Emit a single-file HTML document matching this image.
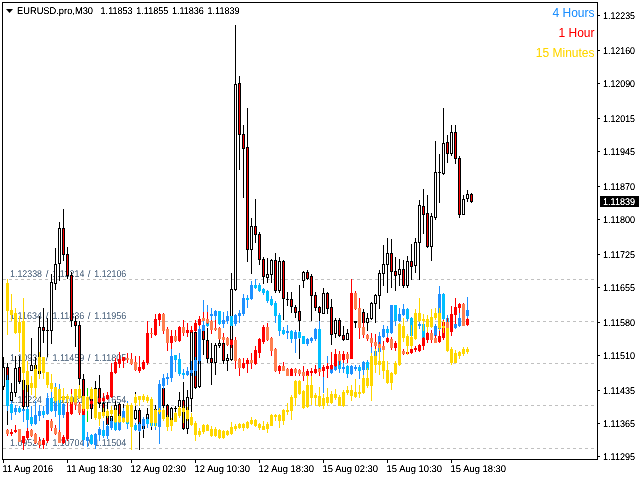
<!DOCTYPE html><html><head><meta charset="utf-8"><title>EURUSD.pro,M30</title>
<style>html,body{margin:0;padding:0;background:#fff;width:640px;height:480px;overflow:hidden}svg{display:block}text{font-family:"Liberation Sans",sans-serif;text-rendering:geometricPrecision}.ax{font-size:9.8px;fill:#000}.lb{font-size:9.8px;fill:#667a90}.lg{font-size:12px;text-rendering:auto}</style></head><body>
<svg width="640" height="480" viewBox="0 0 640 480">
<defs><filter id="cr" x="0" y="0" width="100%" height="100%" filterUnits="userSpaceOnUse" color-interpolation-filters="sRGB"><feComponentTransfer><feFuncA type="linear" slope="1.8" intercept="-0.25"/></feComponentTransfer></filter><filter id="c2" x="0" y="0" width="100%" height="100%" filterUnits="userSpaceOnUse" color-interpolation-filters="sRGB"><feComponentTransfer><feFuncA type="linear" slope="1.15" intercept="-0.05"/></feComponentTransfer></filter></defs>
<rect width="640" height="480" fill="#fff"/>
<g shape-rendering="crispEdges">
<path d="M3 279.5H597" stroke="#c0c0c0" stroke-width="1" stroke-dasharray="3 3" fill="none"/>
<path d="M3 321.5H597" stroke="#c0c0c0" stroke-width="1" stroke-dasharray="3 3" fill="none"/>
<path d="M3 363.5H597" stroke="#c0c0c0" stroke-width="1" stroke-dasharray="3 3" fill="none"/>
<path d="M3 405.5H597" stroke="#c0c0c0" stroke-width="1" stroke-dasharray="3 3" fill="none"/>
<path d="M3 448.5H597" stroke="#c0c0c0" stroke-width="1" stroke-dasharray="3 3" fill="none"/>
</g><g filter="url(#cr)">
<text class="lb" x="10" y="277" textLength="32" lengthAdjust="spacingAndGlyphs">1.12338</text>
<text class="lb" x="52.4" y="277" textLength="32" lengthAdjust="spacingAndGlyphs">1.12214</text>
<text class="lb" x="94.3" y="277" textLength="32" lengthAdjust="spacingAndGlyphs">1.12106</text>
<text class="lb" x="45.8" y="277">/</text>
<text class="lb" x="87.8" y="277">/</text>
<text class="lb" x="10" y="319" textLength="32" lengthAdjust="spacingAndGlyphs">1.11634</text>
<text class="lb" x="52.4" y="319" textLength="32" lengthAdjust="spacingAndGlyphs">1.11836</text>
<text class="lb" x="94.3" y="319" textLength="32" lengthAdjust="spacingAndGlyphs">1.11956</text>
<text class="lb" x="45.8" y="319">/</text>
<text class="lb" x="87.8" y="319">/</text>
<text class="lb" x="10" y="361" textLength="32" lengthAdjust="spacingAndGlyphs">1.10931</text>
<text class="lb" x="52.4" y="361" textLength="32" lengthAdjust="spacingAndGlyphs">1.11459</text>
<text class="lb" x="94.3" y="361" textLength="32" lengthAdjust="spacingAndGlyphs">1.11805</text>
<text class="lb" x="45.8" y="361">/</text>
<text class="lb" x="87.8" y="361">/</text>
<text class="lb" x="10" y="403" textLength="32" lengthAdjust="spacingAndGlyphs">1.10224</text>
<text class="lb" x="52.4" y="403" textLength="32" lengthAdjust="spacingAndGlyphs">1.11081</text>
<text class="lb" x="94.3" y="403" textLength="32" lengthAdjust="spacingAndGlyphs">1.11654</text>
<text class="lb" x="45.8" y="403">/</text>
<text class="lb" x="87.8" y="403">/</text>
<text class="lb" x="10" y="446" textLength="32" lengthAdjust="spacingAndGlyphs">1.09524</text>
<text class="lb" x="52.4" y="446" textLength="32" lengthAdjust="spacingAndGlyphs">1.10704</text>
<text class="lb" x="94.3" y="446" textLength="32" lengthAdjust="spacingAndGlyphs">1.11504</text>
<text class="lb" x="45.8" y="446">/</text>
<text class="lb" x="87.8" y="446">/</text>
</g><g shape-rendering="crispEdges">
<rect x="3" y="357" width="1" height="33" fill="#000"/>
<rect x="2" y="367" width="3" height="20" fill="#000"/>
<rect x="3" y="368" width="1" height="18" fill="#fff"/>
<rect x="7" y="363" width="1" height="62" fill="#000"/>
<rect x="6" y="367" width="3" height="34" fill="#000"/>
<rect x="7" y="368" width="1" height="32" fill="#ff0000"/>
<rect x="11" y="383" width="1" height="20" fill="#000"/>
<rect x="10" y="392" width="3" height="9" fill="#000"/>
<rect x="11" y="393" width="1" height="7" fill="#fff"/>
<rect x="15" y="356" width="1" height="41" fill="#000"/>
<rect x="14" y="368" width="3" height="25" fill="#000"/>
<rect x="15" y="369" width="1" height="23" fill="#fff"/>
<rect x="19" y="356" width="1" height="28" fill="#000"/>
<rect x="18" y="367" width="3" height="15" fill="#000"/>
<rect x="19" y="368" width="1" height="13" fill="#ff0000"/>
<rect x="23" y="378" width="1" height="32" fill="#000"/>
<rect x="22" y="380" width="3" height="27" fill="#000"/>
<rect x="23" y="381" width="1" height="25" fill="#ff0000"/>
<rect x="27" y="380" width="1" height="28" fill="#000"/>
<rect x="26" y="384" width="3" height="23" fill="#000"/>
<rect x="27" y="385" width="1" height="21" fill="#fff"/>
<rect x="31" y="338" width="1" height="33" fill="#000"/>
<rect x="30" y="365" width="3" height="6" fill="#000"/>
<rect x="31" y="366" width="1" height="4" fill="#fff"/>
<rect x="35" y="357" width="1" height="13" fill="#000"/>
<rect x="34" y="365" width="3" height="5" fill="#000"/>
<rect x="35" y="366" width="1" height="3" fill="#fff"/>
<rect x="39" y="316" width="1" height="58" fill="#000"/>
<rect x="38" y="327" width="3" height="47" fill="#000"/>
<rect x="39" y="328" width="1" height="45" fill="#fff"/>
<rect x="43" y="308" width="1" height="35" fill="#000"/>
<rect x="42" y="327" width="3" height="4" fill="#000"/>
<rect x="43" y="328" width="1" height="2" fill="#ff0000"/>
<rect x="47" y="318" width="1" height="39" fill="#000"/>
<rect x="46" y="330" width="3" height="1" fill="#000"/>
<rect x="51" y="274" width="1" height="70" fill="#000"/>
<rect x="50" y="282" width="3" height="49" fill="#000"/>
<rect x="51" y="283" width="1" height="47" fill="#fff"/>
<rect x="55" y="248" width="1" height="42" fill="#000"/>
<rect x="54" y="264" width="3" height="20" fill="#000"/>
<rect x="55" y="265" width="1" height="18" fill="#fff"/>
<rect x="59" y="222" width="1" height="59" fill="#000"/>
<rect x="58" y="228" width="3" height="36" fill="#000"/>
<rect x="59" y="229" width="1" height="34" fill="#fff"/>
<rect x="63" y="209" width="1" height="52" fill="#000"/>
<rect x="62" y="228" width="3" height="27" fill="#000"/>
<rect x="63" y="229" width="1" height="25" fill="#ff0000"/>
<rect x="67" y="247" width="1" height="32" fill="#000"/>
<rect x="66" y="254" width="3" height="22" fill="#000"/>
<rect x="67" y="255" width="1" height="20" fill="#ff0000"/>
<rect x="71" y="272" width="1" height="55" fill="#000"/>
<rect x="70" y="275" width="3" height="46" fill="#000"/>
<rect x="71" y="276" width="1" height="44" fill="#ff0000"/>
<rect x="75" y="316" width="1" height="31" fill="#000"/>
<rect x="74" y="321" width="3" height="5" fill="#000"/>
<rect x="75" y="322" width="1" height="3" fill="#ff0000"/>
<rect x="79" y="321" width="1" height="65" fill="#000"/>
<rect x="78" y="325" width="3" height="54" fill="#000"/>
<rect x="79" y="326" width="1" height="52" fill="#ff0000"/>
<rect x="83" y="374" width="1" height="41" fill="#000"/>
<rect x="82" y="379" width="3" height="34" fill="#000"/>
<rect x="83" y="380" width="1" height="32" fill="#ff0000"/>
<rect x="91" y="398" width="1" height="21" fill="#000"/>
<rect x="90" y="398" width="3" height="11" fill="#000"/>
<rect x="91" y="399" width="1" height="9" fill="#ff0000"/>
<rect x="95" y="381" width="1" height="10" fill="#000"/>
<rect x="94" y="388" width="3" height="2" fill="#000"/>
<rect x="99" y="375" width="1" height="33" fill="#000"/>
<rect x="98" y="388" width="3" height="16" fill="#000"/>
<rect x="99" y="389" width="1" height="14" fill="#ff0000"/>
<rect x="103" y="400" width="1" height="15" fill="#000"/>
<rect x="102" y="403" width="3" height="10" fill="#000"/>
<rect x="103" y="404" width="1" height="8" fill="#ff0000"/>
<rect x="107" y="402" width="1" height="25" fill="#000"/>
<rect x="106" y="415" width="3" height="10" fill="#000"/>
<rect x="107" y="416" width="1" height="8" fill="#ff0000"/>
<rect x="111" y="414" width="1" height="9" fill="#000"/>
<rect x="110" y="416" width="3" height="5" fill="#000"/>
<rect x="111" y="417" width="1" height="3" fill="#fff"/>
<rect x="115" y="401" width="1" height="11" fill="#000"/>
<rect x="114" y="405" width="3" height="5" fill="#000"/>
<rect x="115" y="406" width="1" height="3" fill="#fff"/>
<rect x="119" y="403" width="1" height="16" fill="#000"/>
<rect x="118" y="404" width="3" height="13" fill="#000"/>
<rect x="119" y="405" width="1" height="11" fill="#ff0000"/>
<rect x="123" y="404" width="1" height="16" fill="#000"/>
<rect x="122" y="417" width="3" height="2" fill="#000"/>
<rect x="135" y="392" width="1" height="28" fill="#000"/>
<rect x="134" y="410" width="3" height="9" fill="#000"/>
<rect x="135" y="411" width="1" height="7" fill="#fff"/>
<rect x="139" y="408" width="1" height="42" fill="#000"/>
<rect x="138" y="410" width="3" height="14" fill="#000"/>
<rect x="139" y="411" width="1" height="12" fill="#ff0000"/>
<rect x="143" y="418" width="1" height="20" fill="#000"/>
<rect x="142" y="425" width="3" height="4" fill="#000"/>
<rect x="143" y="426" width="1" height="2" fill="#ff0000"/>
<rect x="147" y="408" width="1" height="18" fill="#000"/>
<rect x="146" y="414" width="3" height="5" fill="#000"/>
<rect x="147" y="415" width="1" height="3" fill="#fff"/>
<rect x="151" y="427" width="1" height="3" fill="#000"/>
<rect x="155" y="405" width="1" height="5" fill="#000"/>
<rect x="154" y="409" width="3" height="1" fill="#000"/>
<rect x="163" y="386" width="1" height="25" fill="#000"/>
<rect x="162" y="388" width="3" height="18" fill="#000"/>
<rect x="163" y="389" width="1" height="16" fill="#ff0000"/>
<rect x="167" y="404" width="1" height="14" fill="#000"/>
<rect x="166" y="405" width="3" height="12" fill="#000"/>
<rect x="167" y="406" width="1" height="10" fill="#ff0000"/>
<rect x="171" y="407" width="1" height="15" fill="#000"/>
<rect x="170" y="408" width="3" height="13" fill="#000"/>
<rect x="171" y="409" width="1" height="11" fill="#fff"/>
<rect x="175" y="406" width="1" height="8" fill="#000"/>
<rect x="174" y="408" width="3" height="1" fill="#000"/>
<rect x="179" y="392" width="1" height="16" fill="#000"/>
<rect x="178" y="400" width="3" height="7" fill="#000"/>
<rect x="179" y="401" width="1" height="5" fill="#fff"/>
<rect x="183" y="382" width="1" height="48" fill="#000"/>
<rect x="182" y="400" width="3" height="29" fill="#000"/>
<rect x="183" y="401" width="1" height="27" fill="#ff0000"/>
<rect x="187" y="390" width="1" height="44" fill="#000"/>
<rect x="186" y="397" width="3" height="32" fill="#000"/>
<rect x="187" y="398" width="1" height="30" fill="#fff"/>
<rect x="191" y="330" width="1" height="82" fill="#000"/>
<rect x="190" y="332" width="3" height="67" fill="#000"/>
<rect x="191" y="333" width="1" height="65" fill="#fff"/>
<rect x="195" y="330" width="1" height="59" fill="#000"/>
<rect x="194" y="332" width="3" height="56" fill="#000"/>
<rect x="195" y="333" width="1" height="54" fill="#ff0000"/>
<rect x="199" y="328" width="1" height="60" fill="#000"/>
<rect x="198" y="330" width="3" height="57" fill="#000"/>
<rect x="199" y="331" width="1" height="55" fill="#fff"/>
<rect x="203" y="328" width="1" height="27" fill="#000"/>
<rect x="202" y="330" width="3" height="10" fill="#000"/>
<rect x="203" y="331" width="1" height="8" fill="#ff0000"/>
<rect x="207" y="328" width="1" height="35" fill="#000"/>
<rect x="206" y="340" width="3" height="19" fill="#000"/>
<rect x="207" y="341" width="1" height="17" fill="#ff0000"/>
<rect x="211" y="343" width="1" height="42" fill="#000"/>
<rect x="210" y="358" width="3" height="5" fill="#000"/>
<rect x="211" y="359" width="1" height="3" fill="#ff0000"/>
<rect x="215" y="343" width="1" height="32" fill="#000"/>
<rect x="214" y="345" width="3" height="18" fill="#000"/>
<rect x="215" y="346" width="1" height="16" fill="#fff"/>
<rect x="219" y="340" width="1" height="8" fill="#000"/>
<rect x="218" y="343" width="3" height="3" fill="#000"/>
<rect x="219" y="344" width="1" height="1" fill="#fff"/>
<rect x="223" y="342" width="1" height="22" fill="#000"/>
<rect x="222" y="343" width="3" height="18" fill="#000"/>
<rect x="223" y="344" width="1" height="16" fill="#ff0000"/>
<rect x="227" y="354" width="1" height="17" fill="#000"/>
<rect x="226" y="358" width="3" height="3" fill="#000"/>
<rect x="227" y="359" width="1" height="1" fill="#fff"/>
<rect x="231" y="273" width="1" height="88" fill="#000"/>
<rect x="230" y="289" width="3" height="71" fill="#000"/>
<rect x="231" y="290" width="1" height="69" fill="#fff"/>
<rect x="235" y="25" width="1" height="266" fill="#000"/>
<rect x="234" y="84" width="3" height="206" fill="#000"/>
<rect x="235" y="85" width="1" height="204" fill="#fff"/>
<rect x="239" y="76" width="1" height="94" fill="#000"/>
<rect x="238" y="83" width="3" height="52" fill="#000"/>
<rect x="239" y="84" width="1" height="50" fill="#ff0000"/>
<rect x="243" y="125" width="1" height="73" fill="#000"/>
<rect x="242" y="134" width="3" height="15" fill="#000"/>
<rect x="243" y="135" width="1" height="13" fill="#ff0000"/>
<rect x="247" y="108" width="1" height="154" fill="#000"/>
<rect x="246" y="147" width="3" height="103" fill="#000"/>
<rect x="247" y="148" width="1" height="101" fill="#ff0000"/>
<rect x="251" y="218" width="1" height="56" fill="#000"/>
<rect x="250" y="226" width="3" height="24" fill="#000"/>
<rect x="251" y="227" width="1" height="22" fill="#fff"/>
<rect x="255" y="199" width="1" height="44" fill="#000"/>
<rect x="254" y="226" width="3" height="9" fill="#000"/>
<rect x="255" y="227" width="1" height="7" fill="#ff0000"/>
<rect x="259" y="232" width="1" height="33" fill="#000"/>
<rect x="258" y="234" width="3" height="26" fill="#000"/>
<rect x="259" y="235" width="1" height="24" fill="#ff0000"/>
<rect x="263" y="257" width="1" height="27" fill="#000"/>
<rect x="262" y="259" width="3" height="18" fill="#000"/>
<rect x="263" y="260" width="1" height="16" fill="#ff0000"/>
<rect x="267" y="258" width="1" height="25" fill="#000"/>
<rect x="266" y="274" width="3" height="4" fill="#000"/>
<rect x="267" y="275" width="1" height="2" fill="#fff"/>
<rect x="271" y="259" width="1" height="24" fill="#000"/>
<rect x="270" y="260" width="3" height="15" fill="#000"/>
<rect x="271" y="261" width="1" height="13" fill="#fff"/>
<rect x="275" y="253" width="1" height="40" fill="#000"/>
<rect x="274" y="260" width="3" height="31" fill="#000"/>
<rect x="275" y="261" width="1" height="29" fill="#ff0000"/>
<rect x="279" y="257" width="1" height="36" fill="#000"/>
<rect x="278" y="261" width="3" height="30" fill="#000"/>
<rect x="279" y="262" width="1" height="28" fill="#fff"/>
<rect x="283" y="260" width="1" height="60" fill="#000"/>
<rect x="282" y="261" width="3" height="38" fill="#000"/>
<rect x="283" y="262" width="1" height="36" fill="#ff0000"/>
<rect x="287" y="292" width="1" height="14" fill="#000"/>
<rect x="286" y="299" width="3" height="1" fill="#000"/>
<rect x="291" y="292" width="1" height="21" fill="#000"/>
<rect x="290" y="299" width="3" height="8" fill="#000"/>
<rect x="291" y="300" width="1" height="6" fill="#ff0000"/>
<rect x="295" y="305" width="1" height="13" fill="#000"/>
<rect x="294" y="307" width="3" height="6" fill="#000"/>
<rect x="295" y="308" width="1" height="4" fill="#ff0000"/>
<rect x="299" y="285" width="1" height="74" fill="#000"/>
<rect x="298" y="311" width="3" height="10" fill="#000"/>
<rect x="299" y="312" width="1" height="8" fill="#ff0000"/>
<rect x="303" y="271" width="1" height="17" fill="#000"/>
<rect x="302" y="272" width="3" height="9" fill="#000"/>
<rect x="303" y="273" width="1" height="7" fill="#fff"/>
<rect x="307" y="270" width="1" height="10" fill="#000"/>
<rect x="306" y="272" width="3" height="7" fill="#000"/>
<rect x="307" y="273" width="1" height="5" fill="#ff0000"/>
<rect x="311" y="274" width="1" height="47" fill="#000"/>
<rect x="310" y="276" width="3" height="20" fill="#000"/>
<rect x="311" y="277" width="1" height="18" fill="#ff0000"/>
<rect x="315" y="292" width="1" height="19" fill="#000"/>
<rect x="314" y="295" width="3" height="13" fill="#000"/>
<rect x="315" y="296" width="1" height="11" fill="#ff0000"/>
<rect x="319" y="306" width="1" height="16" fill="#000"/>
<rect x="318" y="307" width="3" height="6" fill="#000"/>
<rect x="319" y="308" width="1" height="4" fill="#ff0000"/>
<rect x="323" y="288" width="1" height="26" fill="#000"/>
<rect x="322" y="293" width="3" height="21" fill="#000"/>
<rect x="323" y="294" width="1" height="19" fill="#fff"/>
<rect x="327" y="292" width="1" height="22" fill="#000"/>
<rect x="326" y="293" width="3" height="16" fill="#000"/>
<rect x="327" y="294" width="1" height="14" fill="#ff0000"/>
<rect x="331" y="299" width="1" height="46" fill="#000"/>
<rect x="330" y="307" width="3" height="28" fill="#000"/>
<rect x="331" y="308" width="1" height="26" fill="#ff0000"/>
<rect x="335" y="318" width="1" height="20" fill="#000"/>
<rect x="334" y="320" width="3" height="14" fill="#000"/>
<rect x="335" y="321" width="1" height="12" fill="#fff"/>
<rect x="339" y="318" width="1" height="19" fill="#000"/>
<rect x="338" y="320" width="3" height="16" fill="#000"/>
<rect x="339" y="321" width="1" height="14" fill="#ff0000"/>
<rect x="343" y="326" width="1" height="15" fill="#000"/>
<rect x="342" y="335" width="3" height="5" fill="#000"/>
<rect x="343" y="336" width="1" height="3" fill="#ff0000"/>
<rect x="347" y="329" width="1" height="11" fill="#000"/>
<rect x="346" y="333" width="3" height="7" fill="#000"/>
<rect x="347" y="334" width="1" height="5" fill="#fff"/>
<rect x="355" y="321" width="1" height="7" fill="#000"/>
<rect x="354" y="321" width="3" height="2" fill="#000"/>
<rect x="363" y="309" width="1" height="15" fill="#000"/>
<rect x="362" y="312" width="3" height="11" fill="#000"/>
<rect x="363" y="313" width="1" height="9" fill="#ff0000"/>
<rect x="367" y="313" width="1" height="18" fill="#000"/>
<rect x="366" y="318" width="3" height="5" fill="#000"/>
<rect x="367" y="319" width="1" height="3" fill="#fff"/>
<rect x="371" y="302" width="1" height="18" fill="#000"/>
<rect x="370" y="303" width="3" height="16" fill="#000"/>
<rect x="371" y="304" width="1" height="14" fill="#fff"/>
<rect x="375" y="294" width="1" height="29" fill="#000"/>
<rect x="374" y="295" width="3" height="9" fill="#000"/>
<rect x="375" y="296" width="1" height="7" fill="#fff"/>
<rect x="379" y="270" width="1" height="39" fill="#000"/>
<rect x="378" y="273" width="3" height="23" fill="#000"/>
<rect x="379" y="274" width="1" height="21" fill="#fff"/>
<rect x="383" y="245" width="1" height="41" fill="#000"/>
<rect x="382" y="264" width="3" height="10" fill="#000"/>
<rect x="383" y="265" width="1" height="8" fill="#fff"/>
<rect x="387" y="238" width="1" height="55" fill="#000"/>
<rect x="386" y="253" width="3" height="12" fill="#000"/>
<rect x="387" y="254" width="1" height="10" fill="#fff"/>
<rect x="391" y="239" width="1" height="49" fill="#000"/>
<rect x="390" y="253" width="3" height="19" fill="#000"/>
<rect x="391" y="254" width="1" height="17" fill="#ff0000"/>
<rect x="395" y="257" width="1" height="34" fill="#000"/>
<rect x="394" y="271" width="3" height="5" fill="#000"/>
<rect x="395" y="272" width="1" height="3" fill="#ff0000"/>
<rect x="399" y="259" width="1" height="27" fill="#000"/>
<rect x="398" y="269" width="3" height="6" fill="#000"/>
<rect x="399" y="270" width="1" height="4" fill="#fff"/>
<rect x="403" y="260" width="1" height="28" fill="#000"/>
<rect x="402" y="269" width="3" height="17" fill="#000"/>
<rect x="403" y="270" width="1" height="15" fill="#ff0000"/>
<rect x="407" y="256" width="1" height="32" fill="#000"/>
<rect x="406" y="261" width="3" height="25" fill="#000"/>
<rect x="407" y="262" width="1" height="23" fill="#fff"/>
<rect x="411" y="244" width="1" height="36" fill="#000"/>
<rect x="410" y="261" width="3" height="6" fill="#000"/>
<rect x="411" y="262" width="1" height="4" fill="#ff0000"/>
<rect x="415" y="238" width="1" height="35" fill="#000"/>
<rect x="414" y="242" width="3" height="24" fill="#000"/>
<rect x="415" y="243" width="1" height="22" fill="#fff"/>
<rect x="419" y="200" width="1" height="80" fill="#000"/>
<rect x="418" y="205" width="3" height="38" fill="#000"/>
<rect x="419" y="206" width="1" height="36" fill="#fff"/>
<rect x="423" y="189" width="1" height="45" fill="#000"/>
<rect x="422" y="206" width="3" height="9" fill="#000"/>
<rect x="423" y="207" width="1" height="7" fill="#ff0000"/>
<rect x="427" y="195" width="1" height="53" fill="#000"/>
<rect x="426" y="213" width="3" height="34" fill="#000"/>
<rect x="427" y="214" width="1" height="32" fill="#ff0000"/>
<rect x="431" y="213" width="1" height="48" fill="#000"/>
<rect x="430" y="216" width="3" height="31" fill="#000"/>
<rect x="431" y="217" width="1" height="29" fill="#fff"/>
<rect x="435" y="141" width="1" height="79" fill="#000"/>
<rect x="434" y="172" width="3" height="46" fill="#000"/>
<rect x="435" y="173" width="1" height="44" fill="#fff"/>
<rect x="439" y="154" width="1" height="49" fill="#000"/>
<rect x="438" y="172" width="3" height="1" fill="#000"/>
<rect x="443" y="108" width="1" height="67" fill="#000"/>
<rect x="442" y="143" width="3" height="31" fill="#000"/>
<rect x="443" y="144" width="1" height="29" fill="#fff"/>
<rect x="447" y="135" width="1" height="28" fill="#000"/>
<rect x="446" y="142" width="3" height="12" fill="#000"/>
<rect x="447" y="143" width="1" height="10" fill="#ff0000"/>
<rect x="451" y="125" width="1" height="31" fill="#000"/>
<rect x="450" y="132" width="3" height="22" fill="#000"/>
<rect x="451" y="133" width="1" height="20" fill="#fff"/>
<rect x="455" y="125" width="1" height="39" fill="#000"/>
<rect x="454" y="132" width="3" height="27" fill="#000"/>
<rect x="455" y="133" width="1" height="25" fill="#ff0000"/>
<rect x="459" y="156" width="1" height="62" fill="#000"/>
<rect x="458" y="158" width="3" height="57" fill="#000"/>
<rect x="459" y="159" width="1" height="55" fill="#ff0000"/>
<rect x="463" y="195" width="1" height="20" fill="#000"/>
<rect x="462" y="199" width="3" height="16" fill="#000"/>
<rect x="463" y="200" width="1" height="14" fill="#fff"/>
<rect x="467" y="190" width="1" height="12" fill="#000"/>
<rect x="466" y="194" width="3" height="5" fill="#000"/>
<rect x="467" y="195" width="1" height="3" fill="#fff"/>
<rect x="471" y="193" width="1" height="10" fill="#000"/>
<rect x="470" y="194" width="3" height="8" fill="#000"/>
<rect x="471" y="195" width="1" height="6" fill="#ff0000"/>
<rect x="87" y="388" width="1" height="34" fill="#00e000"/>
<rect x="7" y="375" width="1" height="36" fill="#1e90ff"/>
<rect x="6" y="380" width="3" height="26" fill="#00bfff"/>
<rect x="11" y="401" width="1" height="19" fill="#1e90ff"/>
<rect x="10" y="404" width="3" height="9" fill="#00bfff"/>
<rect x="15" y="405" width="1" height="10" fill="#1e90ff"/>
<rect x="14" y="408" width="3" height="4" fill="#1e90ff"/>
<rect x="19" y="406" width="1" height="7" fill="#1e90ff"/>
<rect x="18" y="408" width="3" height="4" fill="#00bfff"/>
<rect x="23" y="409" width="1" height="13" fill="#1e90ff"/>
<rect x="22" y="409" width="3" height="2" fill="#1e90ff"/>
<rect x="27" y="406" width="1" height="23" fill="#1e90ff"/>
<rect x="26" y="409" width="3" height="11" fill="#00bfff"/>
<rect x="31" y="406" width="1" height="20" fill="#1e90ff"/>
<rect x="30" y="417" width="3" height="7" fill="#00bfff"/>
<rect x="35" y="401" width="1" height="24" fill="#1e90ff"/>
<rect x="34" y="415" width="3" height="9" fill="#1e90ff"/>
<rect x="39" y="405" width="1" height="16" fill="#1e90ff"/>
<rect x="38" y="411" width="3" height="5" fill="#1e90ff"/>
<rect x="43" y="406" width="1" height="12" fill="#1e90ff"/>
<rect x="42" y="411" width="3" height="4" fill="#00bfff"/>
<rect x="47" y="393" width="1" height="22" fill="#1e90ff"/>
<rect x="46" y="398" width="3" height="16" fill="#1e90ff"/>
<rect x="51" y="392" width="1" height="20" fill="#1e90ff"/>
<rect x="50" y="398" width="3" height="13" fill="#00bfff"/>
<rect x="55" y="383" width="1" height="34" fill="#1e90ff"/>
<rect x="54" y="400" width="3" height="11" fill="#1e90ff"/>
<rect x="59" y="384" width="1" height="47" fill="#1e90ff"/>
<rect x="58" y="392" width="3" height="23" fill="#00bfff"/>
<rect x="63" y="402" width="1" height="16" fill="#1e90ff"/>
<rect x="62" y="404" width="3" height="11" fill="#1e90ff"/>
<rect x="83" y="412" width="1" height="34" fill="#1e90ff"/>
<rect x="82" y="414" width="3" height="26" fill="#00bfff"/>
<rect x="87" y="432" width="1" height="15" fill="#1e90ff"/>
<rect x="86" y="437" width="3" height="4" fill="#1e90ff"/>
<rect x="91" y="434" width="1" height="11" fill="#1e90ff"/>
<rect x="90" y="435" width="3" height="9" fill="#00bfff"/>
<rect x="95" y="433" width="1" height="16" fill="#1e90ff"/>
<rect x="94" y="434" width="3" height="11" fill="#1e90ff"/>
<rect x="99" y="427" width="1" height="14" fill="#1e90ff"/>
<rect x="98" y="429" width="3" height="6" fill="#1e90ff"/>
<rect x="103" y="421" width="1" height="17" fill="#1e90ff"/>
<rect x="102" y="430" width="3" height="6" fill="#00bfff"/>
<rect x="107" y="424" width="1" height="15" fill="#1e90ff"/>
<rect x="106" y="426" width="3" height="10" fill="#1e90ff"/>
<rect x="111" y="418" width="1" height="12" fill="#1e90ff"/>
<rect x="110" y="421" width="3" height="7" fill="#1e90ff"/>
<rect x="115" y="420" width="1" height="11" fill="#1e90ff"/>
<rect x="114" y="422" width="3" height="8" fill="#00bfff"/>
<rect x="119" y="418" width="1" height="13" fill="#1e90ff"/>
<rect x="118" y="421" width="3" height="9" fill="#1e90ff"/>
<rect x="123" y="408" width="1" height="12" fill="#1e90ff"/>
<rect x="122" y="411" width="3" height="7" fill="#1e90ff"/>
<rect x="127" y="401" width="1" height="28" fill="#1e90ff"/>
<rect x="126" y="421" width="3" height="3" fill="#00bfff"/>
<rect x="135" y="423" width="1" height="8" fill="#1e90ff"/>
<rect x="134" y="425" width="3" height="5" fill="#00bfff"/>
<rect x="139" y="422" width="1" height="10" fill="#1e90ff"/>
<rect x="138" y="424" width="3" height="7" fill="#1e90ff"/>
<rect x="143" y="417" width="1" height="13" fill="#1e90ff"/>
<rect x="142" y="419" width="3" height="7" fill="#1e90ff"/>
<rect x="147" y="417" width="1" height="11" fill="#1e90ff"/>
<rect x="146" y="419" width="3" height="5" fill="#00bfff"/>
<rect x="155" y="421" width="1" height="9" fill="#1e90ff"/>
<rect x="154" y="422" width="3" height="4" fill="#00bfff"/>
<rect x="159" y="380" width="1" height="64" fill="#1e90ff"/>
<rect x="158" y="384" width="3" height="43" fill="#1e90ff"/>
<rect x="163" y="374" width="1" height="15" fill="#1e90ff"/>
<rect x="162" y="378" width="3" height="8" fill="#1e90ff"/>
<rect x="167" y="373" width="1" height="12" fill="#1e90ff"/>
<rect x="166" y="377" width="3" height="2" fill="#1e90ff"/>
<rect x="171" y="348" width="1" height="34" fill="#1e90ff"/>
<rect x="170" y="356" width="3" height="22" fill="#1e90ff"/>
<rect x="175" y="355" width="1" height="17" fill="#1e90ff"/>
<rect x="174" y="355" width="3" height="5" fill="#00bfff"/>
<rect x="179" y="353" width="1" height="23" fill="#1e90ff"/>
<rect x="178" y="359" width="3" height="15" fill="#00bfff"/>
<rect x="183" y="369" width="1" height="10" fill="#1e90ff"/>
<rect x="182" y="373" width="3" height="2" fill="#00bfff"/>
<rect x="187" y="367" width="1" height="9" fill="#1e90ff"/>
<rect x="186" y="371" width="3" height="4" fill="#1e90ff"/>
<rect x="191" y="361" width="1" height="15" fill="#1e90ff"/>
<rect x="190" y="370" width="3" height="3" fill="#1e90ff"/>
<rect x="195" y="357" width="1" height="19" fill="#1e90ff"/>
<rect x="194" y="360" width="3" height="11" fill="#1e90ff"/>
<rect x="199" y="326" width="1" height="38" fill="#1e90ff"/>
<rect x="198" y="329" width="3" height="32" fill="#1e90ff"/>
<rect x="203" y="300" width="1" height="31" fill="#1e90ff"/>
<rect x="202" y="325" width="3" height="6" fill="#1e90ff"/>
<rect x="207" y="305" width="1" height="22" fill="#1e90ff"/>
<rect x="206" y="322" width="3" height="4" fill="#00bfff"/>
<rect x="211" y="308" width="1" height="13" fill="#1e90ff"/>
<rect x="210" y="314" width="3" height="2" fill="#1e90ff"/>
<rect x="215" y="310" width="1" height="11" fill="#1e90ff"/>
<rect x="214" y="311" width="3" height="5" fill="#1e90ff"/>
<rect x="219" y="311" width="1" height="14" fill="#1e90ff"/>
<rect x="218" y="311" width="3" height="13" fill="#00bfff"/>
<rect x="223" y="312" width="1" height="16" fill="#1e90ff"/>
<rect x="222" y="320" width="3" height="4" fill="#1e90ff"/>
<rect x="227" y="311" width="1" height="13" fill="#1e90ff"/>
<rect x="226" y="316" width="3" height="5" fill="#1e90ff"/>
<rect x="231" y="316" width="1" height="10" fill="#1e90ff"/>
<rect x="230" y="316" width="3" height="10" fill="#00bfff"/>
<rect x="235" y="314" width="1" height="12" fill="#1e90ff"/>
<rect x="234" y="315" width="3" height="9" fill="#1e90ff"/>
<rect x="239" y="310" width="1" height="13" fill="#1e90ff"/>
<rect x="238" y="313" width="3" height="3" fill="#1e90ff"/>
<rect x="243" y="294" width="1" height="22" fill="#1e90ff"/>
<rect x="242" y="298" width="3" height="16" fill="#1e90ff"/>
<rect x="247" y="295" width="1" height="13" fill="#1e90ff"/>
<rect x="246" y="298" width="3" height="2" fill="#00bfff"/>
<rect x="251" y="281" width="1" height="19" fill="#1e90ff"/>
<rect x="250" y="285" width="3" height="14" fill="#1e90ff"/>
<rect x="255" y="279" width="1" height="10" fill="#1e90ff"/>
<rect x="254" y="285" width="3" height="3" fill="#00bfff"/>
<rect x="259" y="283" width="1" height="9" fill="#1e90ff"/>
<rect x="258" y="285" width="3" height="6" fill="#00bfff"/>
<rect x="263" y="288" width="1" height="7" fill="#1e90ff"/>
<rect x="262" y="289" width="3" height="4" fill="#00bfff"/>
<rect x="267" y="290" width="1" height="13" fill="#1e90ff"/>
<rect x="266" y="291" width="3" height="10" fill="#00bfff"/>
<rect x="271" y="296" width="1" height="10" fill="#1e90ff"/>
<rect x="270" y="299" width="3" height="6" fill="#00bfff"/>
<rect x="275" y="301" width="1" height="22" fill="#1e90ff"/>
<rect x="274" y="303" width="3" height="13" fill="#00bfff"/>
<rect x="279" y="313" width="1" height="23" fill="#1e90ff"/>
<rect x="278" y="315" width="3" height="16" fill="#00bfff"/>
<rect x="283" y="327" width="1" height="8" fill="#1e90ff"/>
<rect x="282" y="330" width="3" height="4" fill="#00bfff"/>
<rect x="287" y="325" width="1" height="14" fill="#1e90ff"/>
<rect x="286" y="331" width="3" height="2" fill="#1e90ff"/>
<rect x="291" y="330" width="1" height="13" fill="#1e90ff"/>
<rect x="290" y="331" width="3" height="8" fill="#00bfff"/>
<rect x="295" y="330" width="1" height="23" fill="#1e90ff"/>
<rect x="294" y="332" width="3" height="7" fill="#1e90ff"/>
<rect x="299" y="331" width="1" height="8" fill="#1e90ff"/>
<rect x="298" y="332" width="3" height="6" fill="#00bfff"/>
<rect x="303" y="336" width="1" height="8" fill="#1e90ff"/>
<rect x="302" y="336" width="3" height="8" fill="#00bfff"/>
<rect x="307" y="338" width="1" height="8" fill="#1e90ff"/>
<rect x="306" y="339" width="3" height="5" fill="#1e90ff"/>
<rect x="311" y="337" width="1" height="6" fill="#1e90ff"/>
<rect x="310" y="338" width="3" height="3" fill="#1e90ff"/>
<rect x="315" y="328" width="1" height="13" fill="#1e90ff"/>
<rect x="314" y="329" width="3" height="10" fill="#1e90ff"/>
<rect x="319" y="321" width="1" height="49" fill="#1e90ff"/>
<rect x="318" y="329" width="3" height="40" fill="#00bfff"/>
<rect x="323" y="365" width="1" height="28" fill="#1e90ff"/>
<rect x="322" y="367" width="3" height="4" fill="#1e90ff"/>
<rect x="327" y="356" width="1" height="17" fill="#1e90ff"/>
<rect x="326" y="366" width="3" height="3" fill="#1e90ff"/>
<rect x="331" y="366" width="1" height="8" fill="#1e90ff"/>
<rect x="330" y="368" width="3" height="5" fill="#1e90ff"/>
<rect x="335" y="364" width="1" height="7" fill="#1e90ff"/>
<rect x="334" y="365" width="3" height="5" fill="#1e90ff"/>
<rect x="339" y="359" width="1" height="14" fill="#1e90ff"/>
<rect x="338" y="360" width="3" height="9" fill="#00bfff"/>
<rect x="343" y="362" width="1" height="11" fill="#1e90ff"/>
<rect x="342" y="367" width="3" height="2" fill="#1e90ff"/>
<rect x="347" y="365" width="1" height="13" fill="#1e90ff"/>
<rect x="346" y="366" width="3" height="8" fill="#00bfff"/>
<rect x="351" y="365" width="1" height="10" fill="#1e90ff"/>
<rect x="350" y="366" width="3" height="8" fill="#1e90ff"/>
<rect x="355" y="365" width="1" height="6" fill="#1e90ff"/>
<rect x="354" y="367" width="3" height="2" fill="#1e90ff"/>
<rect x="359" y="365" width="1" height="14" fill="#1e90ff"/>
<rect x="358" y="367" width="3" height="4" fill="#00bfff"/>
<rect x="363" y="361" width="1" height="15" fill="#1e90ff"/>
<rect x="362" y="362" width="3" height="8" fill="#1e90ff"/>
<rect x="367" y="360" width="1" height="11" fill="#1e90ff"/>
<rect x="366" y="362" width="3" height="8" fill="#00bfff"/>
<rect x="371" y="345" width="1" height="9" fill="#1e90ff"/>
<rect x="375" y="347" width="1" height="10" fill="#1e90ff"/>
<rect x="374" y="351" width="3" height="5" fill="#1e90ff"/>
<rect x="379" y="332" width="1" height="21" fill="#1e90ff"/>
<rect x="378" y="336" width="3" height="16" fill="#1e90ff"/>
<rect x="383" y="325" width="1" height="13" fill="#1e90ff"/>
<rect x="382" y="329" width="3" height="8" fill="#1e90ff"/>
<rect x="387" y="326" width="1" height="12" fill="#1e90ff"/>
<rect x="386" y="329" width="3" height="4" fill="#00bfff"/>
<rect x="391" y="305" width="1" height="29" fill="#1e90ff"/>
<rect x="390" y="305" width="3" height="28" fill="#1e90ff"/>
<rect x="395" y="305" width="1" height="21" fill="#1e90ff"/>
<rect x="394" y="305" width="3" height="16" fill="#00bfff"/>
<rect x="399" y="308" width="1" height="14" fill="#1e90ff"/>
<rect x="398" y="314" width="3" height="7" fill="#1e90ff"/>
<rect x="403" y="304" width="1" height="12" fill="#1e90ff"/>
<rect x="402" y="309" width="3" height="6" fill="#1e90ff"/>
<rect x="407" y="308" width="1" height="13" fill="#1e90ff"/>
<rect x="406" y="309" width="3" height="10" fill="#00bfff"/>
<rect x="411" y="317" width="1" height="20" fill="#1e90ff"/>
<rect x="410" y="318" width="3" height="18" fill="#00bfff"/>
<rect x="419" y="320" width="1" height="9" fill="#1e90ff"/>
<rect x="418" y="324" width="3" height="2" fill="#1e90ff"/>
<rect x="423" y="322" width="1" height="17" fill="#1e90ff"/>
<rect x="422" y="324" width="3" height="14" fill="#00bfff"/>
<rect x="435" y="324" width="1" height="13" fill="#1e90ff"/>
<rect x="434" y="326" width="3" height="10" fill="#1e90ff"/>
<rect x="439" y="286" width="1" height="45" fill="#1e90ff"/>
<rect x="438" y="294" width="3" height="35" fill="#1e90ff"/>
<rect x="443" y="293" width="1" height="28" fill="#1e90ff"/>
<rect x="442" y="294" width="3" height="25" fill="#00bfff"/>
<rect x="447" y="315" width="1" height="8" fill="#1e90ff"/>
<rect x="446" y="318" width="3" height="4" fill="#00bfff"/>
<rect x="455" y="323" width="1" height="6" fill="#1e90ff"/>
<rect x="454" y="324" width="3" height="4" fill="#1e90ff"/>
<rect x="459" y="313" width="1" height="14" fill="#1e90ff"/>
<rect x="458" y="318" width="3" height="8" fill="#1e90ff"/>
<rect x="467" y="297" width="1" height="21" fill="#1e90ff"/>
<rect x="466" y="310" width="3" height="6" fill="#1e90ff"/>
<rect x="151" y="421" width="1" height="6" fill="#1e90ff"/>
<rect x="150" y="422" width="3" height="4" fill="#00bfff"/>
<rect x="7" y="429" width="1" height="7" fill="#ff0000"/>
<rect x="6" y="430" width="3" height="4" fill="#ff7f50"/>
<rect x="11" y="429" width="1" height="7" fill="#ff0000"/>
<rect x="10" y="432" width="3" height="2" fill="#ff0000"/>
<rect x="15" y="425" width="1" height="8" fill="#ff0000"/>
<rect x="14" y="430" width="3" height="2" fill="#ff0000"/>
<rect x="19" y="429" width="1" height="13" fill="#ff0000"/>
<rect x="18" y="429" width="3" height="13" fill="#ff7f50"/>
<rect x="23" y="436" width="1" height="14" fill="#ff0000"/>
<rect x="22" y="436" width="3" height="7" fill="#ff0000"/>
<rect x="27" y="428" width="1" height="12" fill="#ff0000"/>
<rect x="26" y="431" width="3" height="7" fill="#ff0000"/>
<rect x="31" y="429" width="1" height="8" fill="#ff0000"/>
<rect x="30" y="430" width="3" height="6" fill="#ff7f50"/>
<rect x="35" y="433" width="1" height="11" fill="#ff0000"/>
<rect x="34" y="434" width="3" height="9" fill="#ff7f50"/>
<rect x="39" y="437" width="1" height="11" fill="#ff0000"/>
<rect x="38" y="441" width="3" height="4" fill="#ff7f50"/>
<rect x="43" y="438" width="1" height="11" fill="#ff0000"/>
<rect x="42" y="440" width="3" height="5" fill="#ff0000"/>
<rect x="47" y="420" width="1" height="23" fill="#ff0000"/>
<rect x="46" y="420" width="3" height="21" fill="#ff0000"/>
<rect x="51" y="419" width="1" height="12" fill="#ff0000"/>
<rect x="50" y="421" width="3" height="7" fill="#ff7f50"/>
<rect x="55" y="425" width="1" height="10" fill="#ff0000"/>
<rect x="54" y="428" width="3" height="6" fill="#ff7f50"/>
<rect x="59" y="430" width="1" height="13" fill="#ff0000"/>
<rect x="58" y="432" width="3" height="11" fill="#ff7f50"/>
<rect x="63" y="435" width="1" height="9" fill="#ff0000"/>
<rect x="62" y="437" width="3" height="6" fill="#ff0000"/>
<rect x="67" y="402" width="1" height="39" fill="#ff0000"/>
<rect x="66" y="412" width="3" height="27" fill="#ff0000"/>
<rect x="71" y="389" width="1" height="26" fill="#ff0000"/>
<rect x="70" y="402" width="3" height="12" fill="#ff0000"/>
<rect x="75" y="400" width="1" height="10" fill="#ff0000"/>
<rect x="74" y="402" width="3" height="3" fill="#ff7f50"/>
<rect x="79" y="402" width="1" height="13" fill="#ff0000"/>
<rect x="78" y="404" width="3" height="9" fill="#ff7f50"/>
<rect x="83" y="406" width="1" height="9" fill="#ff0000"/>
<rect x="82" y="408" width="3" height="7" fill="#ff0000"/>
<rect x="99" y="392" width="1" height="11" fill="#ff0000"/>
<rect x="98" y="398" width="3" height="4" fill="#ff0000"/>
<rect x="103" y="393" width="1" height="9" fill="#ff0000"/>
<rect x="102" y="398" width="3" height="3" fill="#ff0000"/>
<rect x="107" y="392" width="1" height="8" fill="#ff0000"/>
<rect x="106" y="395" width="3" height="4" fill="#ff0000"/>
<rect x="111" y="363" width="1" height="35" fill="#ff0000"/>
<rect x="110" y="372" width="3" height="25" fill="#ff0000"/>
<rect x="115" y="358" width="1" height="16" fill="#ff0000"/>
<rect x="114" y="362" width="3" height="11" fill="#ff0000"/>
<rect x="119" y="352" width="1" height="16" fill="#ff0000"/>
<rect x="118" y="359" width="3" height="5" fill="#ff0000"/>
<rect x="123" y="357" width="1" height="11" fill="#ff0000"/>
<rect x="122" y="357" width="3" height="4" fill="#ff0000"/>
<rect x="127" y="353" width="1" height="10" fill="#ff0000"/>
<rect x="126" y="358" width="3" height="2" fill="#ff7f50"/>
<rect x="131" y="353" width="1" height="12" fill="#ff0000"/>
<rect x="130" y="359" width="3" height="5" fill="#ff7f50"/>
<rect x="135" y="356" width="1" height="15" fill="#ff0000"/>
<rect x="134" y="362" width="3" height="8" fill="#ff7f50"/>
<rect x="139" y="356" width="1" height="17" fill="#ff0000"/>
<rect x="138" y="367" width="3" height="4" fill="#ff0000"/>
<rect x="143" y="360" width="1" height="10" fill="#ff0000"/>
<rect x="142" y="362" width="3" height="7" fill="#ff0000"/>
<rect x="147" y="321" width="1" height="44" fill="#ff0000"/>
<rect x="146" y="333" width="3" height="30" fill="#ff0000"/>
<rect x="151" y="328" width="1" height="10" fill="#ff0000"/>
<rect x="150" y="333" width="3" height="1" fill="#ff7f50"/>
<rect x="155" y="314" width="1" height="22" fill="#ff0000"/>
<rect x="154" y="319" width="3" height="16" fill="#ff0000"/>
<rect x="159" y="313" width="1" height="13" fill="#ff0000"/>
<rect x="158" y="314" width="3" height="6" fill="#ff0000"/>
<rect x="163" y="313" width="1" height="21" fill="#ff0000"/>
<rect x="162" y="314" width="3" height="17" fill="#ff7f50"/>
<rect x="167" y="327" width="1" height="24" fill="#ff0000"/>
<rect x="166" y="329" width="3" height="14" fill="#ff7f50"/>
<rect x="171" y="330" width="1" height="19" fill="#ff0000"/>
<rect x="170" y="336" width="3" height="7" fill="#ff0000"/>
<rect x="175" y="330" width="1" height="12" fill="#ff0000"/>
<rect x="174" y="336" width="3" height="5" fill="#ff7f50"/>
<rect x="179" y="326" width="1" height="16" fill="#ff0000"/>
<rect x="178" y="327" width="3" height="14" fill="#ff0000"/>
<rect x="183" y="320" width="1" height="16" fill="#ff0000"/>
<rect x="182" y="327" width="3" height="6" fill="#ff7f50"/>
<rect x="187" y="323" width="1" height="14" fill="#ff0000"/>
<rect x="186" y="330" width="3" height="3" fill="#ff0000"/>
<rect x="191" y="326" width="1" height="7" fill="#ff0000"/>
<rect x="190" y="330" width="3" height="2" fill="#ff0000"/>
<rect x="195" y="320" width="1" height="12" fill="#ff0000"/>
<rect x="194" y="323" width="3" height="8" fill="#ff0000"/>
<rect x="199" y="316" width="1" height="10" fill="#ff0000"/>
<rect x="198" y="319" width="3" height="6" fill="#ff0000"/>
<rect x="203" y="312" width="1" height="9" fill="#ff0000"/>
<rect x="202" y="318" width="3" height="3" fill="#ff7f50"/>
<rect x="207" y="312" width="1" height="12" fill="#ff0000"/>
<rect x="206" y="319" width="3" height="4" fill="#ff7f50"/>
<rect x="211" y="320" width="1" height="14" fill="#ff0000"/>
<rect x="210" y="321" width="3" height="9" fill="#ff7f50"/>
<rect x="215" y="320" width="1" height="11" fill="#ff0000"/>
<rect x="214" y="328" width="3" height="2" fill="#ff7f50"/>
<rect x="219" y="327" width="1" height="13" fill="#ff0000"/>
<rect x="218" y="328" width="3" height="11" fill="#ff7f50"/>
<rect x="223" y="333" width="1" height="10" fill="#ff0000"/>
<rect x="222" y="337" width="3" height="3" fill="#ff7f50"/>
<rect x="227" y="337" width="1" height="9" fill="#ff0000"/>
<rect x="226" y="338" width="3" height="7" fill="#ff7f50"/>
<rect x="231" y="339" width="1" height="9" fill="#ff0000"/>
<rect x="230" y="340" width="3" height="5" fill="#ff0000"/>
<rect x="235" y="337" width="1" height="32" fill="#ff0000"/>
<rect x="234" y="340" width="3" height="21" fill="#ff7f50"/>
<rect x="239" y="358" width="1" height="18" fill="#ff0000"/>
<rect x="238" y="359" width="3" height="9" fill="#ff7f50"/>
<rect x="243" y="358" width="1" height="11" fill="#ff0000"/>
<rect x="242" y="363" width="3" height="5" fill="#ff0000"/>
<rect x="247" y="358" width="1" height="15" fill="#ff0000"/>
<rect x="246" y="360" width="3" height="4" fill="#ff0000"/>
<rect x="251" y="353" width="1" height="16" fill="#ff0000"/>
<rect x="250" y="360" width="3" height="3" fill="#ff7f50"/>
<rect x="255" y="346" width="1" height="19" fill="#ff0000"/>
<rect x="254" y="350" width="3" height="14" fill="#ff0000"/>
<rect x="259" y="338" width="1" height="20" fill="#ff0000"/>
<rect x="258" y="339" width="3" height="14" fill="#ff0000"/>
<rect x="263" y="325" width="1" height="19" fill="#ff0000"/>
<rect x="262" y="327" width="3" height="15" fill="#ff0000"/>
<rect x="267" y="323" width="1" height="18" fill="#ff0000"/>
<rect x="266" y="327" width="3" height="13" fill="#ff7f50"/>
<rect x="271" y="337" width="1" height="19" fill="#ff0000"/>
<rect x="270" y="338" width="3" height="13" fill="#ff7f50"/>
<rect x="275" y="348" width="1" height="24" fill="#ff0000"/>
<rect x="274" y="349" width="3" height="22" fill="#ff7f50"/>
<rect x="279" y="365" width="1" height="9" fill="#ff0000"/>
<rect x="278" y="366" width="3" height="5" fill="#ff0000"/>
<rect x="283" y="362" width="1" height="9" fill="#ff0000"/>
<rect x="282" y="366" width="3" height="5" fill="#ff7f50"/>
<rect x="287" y="368" width="1" height="8" fill="#ff0000"/>
<rect x="286" y="369" width="3" height="7" fill="#ff7f50"/>
<rect x="291" y="368" width="1" height="8" fill="#ff0000"/>
<rect x="290" y="369" width="3" height="7" fill="#ff0000"/>
<rect x="295" y="368" width="1" height="8" fill="#ff0000"/>
<rect x="294" y="369" width="3" height="4" fill="#ff7f50"/>
<rect x="299" y="369" width="1" height="7" fill="#ff0000"/>
<rect x="298" y="370" width="3" height="4" fill="#ff7f50"/>
<rect x="303" y="366" width="1" height="15" fill="#ff0000"/>
<rect x="302" y="372" width="3" height="4" fill="#ff7f50"/>
<rect x="307" y="369" width="1" height="8" fill="#ff0000"/>
<rect x="306" y="371" width="3" height="5" fill="#ff0000"/>
<rect x="311" y="368" width="1" height="9" fill="#ff0000"/>
<rect x="310" y="371" width="3" height="2" fill="#ff0000"/>
<rect x="315" y="365" width="1" height="9" fill="#ff0000"/>
<rect x="314" y="369" width="3" height="4" fill="#ff0000"/>
<rect x="319" y="368" width="1" height="8" fill="#ff0000"/>
<rect x="318" y="369" width="3" height="3" fill="#ff7f50"/>
<rect x="323" y="365" width="1" height="12" fill="#ff0000"/>
<rect x="322" y="367" width="3" height="4" fill="#ff0000"/>
<rect x="327" y="363" width="1" height="15" fill="#ff0000"/>
<rect x="326" y="366" width="3" height="3" fill="#ff0000"/>
<rect x="331" y="352" width="1" height="18" fill="#ff0000"/>
<rect x="330" y="365" width="3" height="4" fill="#ff0000"/>
<rect x="335" y="349" width="1" height="18" fill="#ff0000"/>
<rect x="334" y="354" width="3" height="12" fill="#ff0000"/>
<rect x="339" y="351" width="1" height="14" fill="#ff0000"/>
<rect x="338" y="354" width="3" height="7" fill="#ff7f50"/>
<rect x="343" y="351" width="1" height="12" fill="#ff0000"/>
<rect x="342" y="354" width="3" height="6" fill="#ff0000"/>
<rect x="347" y="352" width="1" height="11" fill="#ff0000"/>
<rect x="346" y="354" width="3" height="5" fill="#ff7f50"/>
<rect x="351" y="279" width="1" height="80" fill="#ff0000"/>
<rect x="350" y="293" width="3" height="66" fill="#ff0000"/>
<rect x="355" y="291" width="1" height="19" fill="#ff0000"/>
<rect x="354" y="293" width="3" height="16" fill="#ff7f50"/>
<rect x="359" y="298" width="1" height="41" fill="#ff0000"/>
<rect x="358" y="308" width="3" height="20" fill="#ff7f50"/>
<rect x="363" y="320" width="1" height="18" fill="#ff0000"/>
<rect x="362" y="327" width="3" height="8" fill="#ff7f50"/>
<rect x="367" y="334" width="1" height="7" fill="#ff0000"/>
<rect x="366" y="335" width="3" height="4" fill="#ff7f50"/>
<rect x="371" y="333" width="1" height="14" fill="#ff0000"/>
<rect x="370" y="338" width="3" height="5" fill="#ff7f50"/>
<rect x="375" y="334" width="1" height="15" fill="#ff0000"/>
<rect x="374" y="342" width="3" height="4" fill="#ff7f50"/>
<rect x="379" y="342" width="1" height="9" fill="#ff0000"/>
<rect x="378" y="344" width="3" height="4" fill="#ff7f50"/>
<rect x="383" y="341" width="1" height="13" fill="#ff0000"/>
<rect x="382" y="346" width="3" height="4" fill="#ff7f50"/>
<rect x="387" y="337" width="1" height="6" fill="#ff0000"/>
<rect x="386" y="338" width="3" height="4" fill="#ff0000"/>
<rect x="391" y="337" width="1" height="13" fill="#ff0000"/>
<rect x="390" y="339" width="3" height="9" fill="#ff7f50"/>
<rect x="395" y="341" width="1" height="10" fill="#ff0000"/>
<rect x="394" y="343" width="3" height="5" fill="#ff0000"/>
<rect x="403" y="349" width="1" height="6" fill="#ff0000"/>
<rect x="402" y="351" width="3" height="3" fill="#ff7f50"/>
<rect x="407" y="350" width="1" height="5" fill="#ff0000"/>
<rect x="406" y="352" width="3" height="2" fill="#ff0000"/>
<rect x="411" y="347" width="1" height="7" fill="#ff0000"/>
<rect x="410" y="349" width="3" height="4" fill="#ff0000"/>
<rect x="415" y="346" width="1" height="6" fill="#ff0000"/>
<rect x="414" y="348" width="3" height="2" fill="#ff0000"/>
<rect x="419" y="344" width="1" height="8" fill="#ff0000"/>
<rect x="418" y="345" width="3" height="6" fill="#ff0000"/>
<rect x="423" y="337" width="1" height="13" fill="#ff0000"/>
<rect x="422" y="338" width="3" height="8" fill="#ff0000"/>
<rect x="427" y="330" width="1" height="13" fill="#ff0000"/>
<rect x="426" y="333" width="3" height="7" fill="#ff0000"/>
<rect x="431" y="330" width="1" height="13" fill="#ff0000"/>
<rect x="430" y="333" width="3" height="7" fill="#ff7f50"/>
<rect x="435" y="335" width="1" height="8" fill="#ff0000"/>
<rect x="434" y="338" width="3" height="5" fill="#ff7f50"/>
<rect x="439" y="331" width="1" height="12" fill="#ff0000"/>
<rect x="438" y="336" width="3" height="6" fill="#ff0000"/>
<rect x="443" y="320" width="1" height="20" fill="#ff0000"/>
<rect x="442" y="322" width="3" height="16" fill="#ff0000"/>
<rect x="447" y="318" width="1" height="12" fill="#ff0000"/>
<rect x="446" y="322" width="3" height="7" fill="#ff7f50"/>
<rect x="451" y="306" width="1" height="30" fill="#ff0000"/>
<rect x="450" y="314" width="3" height="18" fill="#ff0000"/>
<rect x="455" y="298" width="1" height="26" fill="#ff0000"/>
<rect x="454" y="307" width="3" height="8" fill="#ff0000"/>
<rect x="459" y="303" width="1" height="10" fill="#ff0000"/>
<rect x="458" y="304" width="3" height="4" fill="#ff0000"/>
<rect x="463" y="303" width="1" height="23" fill="#ff0000"/>
<rect x="462" y="304" width="3" height="22" fill="#ff7f50"/>
<rect x="467" y="318" width="1" height="8" fill="#ff0000"/>
<rect x="466" y="319" width="3" height="6" fill="#ff0000"/>
<rect x="91" y="401" width="1" height="3" fill="#ff0000"/>
<rect x="90" y="401" width="3" height="3" fill="#ff0000"/>
<rect x="7" y="279" width="1" height="56" fill="#ffd700"/>
<rect x="6" y="283" width="3" height="28" fill="#ffd700"/>
<rect x="11" y="294" width="1" height="27" fill="#ffd700"/>
<rect x="10" y="310" width="3" height="5" fill="#ffd700"/>
<rect x="15" y="308" width="1" height="26" fill="#ffd700"/>
<rect x="14" y="313" width="3" height="20" fill="#ffd700"/>
<rect x="19" y="316" width="1" height="36" fill="#ffd700"/>
<rect x="18" y="322" width="3" height="11" fill="#ffd700"/>
<rect x="23" y="298" width="1" height="92" fill="#ffd700"/>
<rect x="22" y="321" width="3" height="52" fill="#ffd700"/>
<rect x="27" y="361" width="1" height="31" fill="#ffd700"/>
<rect x="26" y="371" width="3" height="14" fill="#ffd700"/>
<rect x="31" y="376" width="1" height="19" fill="#ffd700"/>
<rect x="30" y="383" width="3" height="5" fill="#ffd700"/>
<rect x="35" y="365" width="1" height="33" fill="#ffd700"/>
<rect x="34" y="369" width="3" height="19" fill="#ffd700"/>
<rect x="39" y="352" width="1" height="27" fill="#ffd700"/>
<rect x="38" y="357" width="3" height="14" fill="#ffd700"/>
<rect x="43" y="357" width="1" height="22" fill="#ffd700"/>
<rect x="42" y="357" width="3" height="16" fill="#ffd700"/>
<rect x="47" y="372" width="1" height="16" fill="#ffd700"/>
<rect x="46" y="372" width="3" height="13" fill="#ffd700"/>
<rect x="51" y="374" width="1" height="18" fill="#ffd700"/>
<rect x="50" y="383" width="3" height="6" fill="#ffd700"/>
<rect x="55" y="387" width="1" height="16" fill="#ffd700"/>
<rect x="54" y="387" width="3" height="14" fill="#ffd700"/>
<rect x="59" y="389" width="1" height="14" fill="#ffd700"/>
<rect x="58" y="389" width="3" height="11" fill="#ffd700"/>
<rect x="63" y="388" width="1" height="15" fill="#ffd700"/>
<rect x="62" y="396" width="3" height="4" fill="#ffd700"/>
<rect x="67" y="394" width="1" height="9" fill="#ffd700"/>
<rect x="66" y="396" width="3" height="3" fill="#ffd700"/>
<rect x="71" y="394" width="1" height="10" fill="#ffd700"/>
<rect x="70" y="397" width="3" height="5" fill="#ffd700"/>
<rect x="75" y="389" width="1" height="14" fill="#ffd700"/>
<rect x="74" y="389" width="3" height="13" fill="#ffd700"/>
<rect x="79" y="385" width="1" height="14" fill="#ffd700"/>
<rect x="78" y="389" width="3" height="9" fill="#ffd700"/>
<rect x="83" y="396" width="1" height="15" fill="#ffd700"/>
<rect x="82" y="396" width="3" height="13" fill="#ffd700"/>
<rect x="87" y="396" width="1" height="15" fill="#ffd700"/>
<rect x="86" y="397" width="3" height="12" fill="#ffd700"/>
<rect x="91" y="387" width="1" height="12" fill="#ffd700"/>
<rect x="90" y="389" width="3" height="10" fill="#ffd700"/>
<rect x="95" y="389" width="1" height="31" fill="#ffd700"/>
<rect x="94" y="389" width="3" height="29" fill="#ffd700"/>
<rect x="99" y="412" width="1" height="14" fill="#ffd700"/>
<rect x="98" y="412" width="3" height="7" fill="#ffd700"/>
<rect x="103" y="408" width="1" height="10" fill="#ffd700"/>
<rect x="102" y="412" width="3" height="4" fill="#ffd700"/>
<rect x="107" y="409" width="1" height="9" fill="#ffd700"/>
<rect x="106" y="411" width="3" height="5" fill="#ffd700"/>
<rect x="111" y="406" width="1" height="10" fill="#ffd700"/>
<rect x="110" y="410" width="3" height="4" fill="#ffd700"/>
<rect x="115" y="408" width="1" height="15" fill="#ffd700"/>
<rect x="114" y="410" width="3" height="12" fill="#ffd700"/>
<rect x="119" y="414" width="1" height="9" fill="#ffd700"/>
<rect x="118" y="416" width="3" height="6" fill="#ffd700"/>
<rect x="123" y="417" width="1" height="6" fill="#ffd700"/>
<rect x="122" y="418" width="3" height="4" fill="#ffd700"/>
<rect x="127" y="403" width="1" height="20" fill="#ffd700"/>
<rect x="126" y="405" width="3" height="17" fill="#ffd700"/>
<rect x="131" y="403" width="1" height="47" fill="#ffd700"/>
<rect x="130" y="405" width="3" height="22" fill="#ffd700"/>
<rect x="135" y="394" width="1" height="12" fill="#ffd700"/>
<rect x="134" y="397" width="3" height="6" fill="#ffd700"/>
<rect x="139" y="396" width="1" height="10" fill="#ffd700"/>
<rect x="138" y="396" width="3" height="4" fill="#ffd700"/>
<rect x="143" y="394" width="1" height="8" fill="#ffd700"/>
<rect x="142" y="396" width="3" height="4" fill="#ffd700"/>
<rect x="147" y="395" width="1" height="8" fill="#ffd700"/>
<rect x="146" y="397" width="3" height="4" fill="#ffd700"/>
<rect x="151" y="397" width="1" height="29" fill="#ffd700"/>
<rect x="150" y="399" width="3" height="24" fill="#ffd700"/>
<rect x="155" y="409" width="1" height="18" fill="#ffd700"/>
<rect x="154" y="410" width="3" height="13" fill="#ffd700"/>
<rect x="159" y="408" width="1" height="6" fill="#ffd700"/>
<rect x="158" y="410" width="3" height="2" fill="#ffd700"/>
<rect x="163" y="408" width="1" height="13" fill="#ffd700"/>
<rect x="162" y="410" width="3" height="9" fill="#ffd700"/>
<rect x="167" y="415" width="1" height="16" fill="#ffd700"/>
<rect x="166" y="417" width="3" height="10" fill="#ffd700"/>
<rect x="171" y="418" width="1" height="13" fill="#ffd700"/>
<rect x="170" y="420" width="3" height="6" fill="#ffd700"/>
<rect x="175" y="412" width="1" height="10" fill="#ffd700"/>
<rect x="174" y="413" width="3" height="9" fill="#ffd700"/>
<rect x="179" y="406" width="1" height="12" fill="#ffd700"/>
<rect x="178" y="408" width="3" height="8" fill="#ffd700"/>
<rect x="183" y="406" width="1" height="17" fill="#ffd700"/>
<rect x="182" y="408" width="3" height="4" fill="#ffd700"/>
<rect x="187" y="407" width="1" height="14" fill="#ffd700"/>
<rect x="186" y="410" width="3" height="9" fill="#ffd700"/>
<rect x="191" y="413" width="1" height="13" fill="#ffd700"/>
<rect x="190" y="417" width="3" height="8" fill="#ffd700"/>
<rect x="195" y="421" width="1" height="20" fill="#ffd700"/>
<rect x="194" y="423" width="3" height="12" fill="#ffd700"/>
<rect x="199" y="428" width="1" height="9" fill="#ffd700"/>
<rect x="198" y="431" width="3" height="4" fill="#ffd700"/>
<rect x="203" y="424" width="1" height="10" fill="#ffd700"/>
<rect x="202" y="425" width="3" height="7" fill="#ffd700"/>
<rect x="207" y="424" width="1" height="7" fill="#ffd700"/>
<rect x="206" y="425" width="3" height="6" fill="#ffd700"/>
<rect x="211" y="426" width="1" height="11" fill="#ffd700"/>
<rect x="210" y="429" width="3" height="7" fill="#ffd700"/>
<rect x="215" y="427" width="1" height="10" fill="#ffd700"/>
<rect x="214" y="429" width="3" height="7" fill="#ffd700"/>
<rect x="219" y="429" width="1" height="10" fill="#ffd700"/>
<rect x="218" y="430" width="3" height="8" fill="#ffd700"/>
<rect x="223" y="430" width="1" height="9" fill="#ffd700"/>
<rect x="222" y="431" width="3" height="7" fill="#ffd700"/>
<rect x="227" y="430" width="1" height="6" fill="#ffd700"/>
<rect x="226" y="431" width="3" height="4" fill="#ffd700"/>
<rect x="231" y="422" width="1" height="13" fill="#ffd700"/>
<rect x="230" y="427" width="3" height="7" fill="#ffd700"/>
<rect x="235" y="424" width="1" height="7" fill="#ffd700"/>
<rect x="234" y="426" width="3" height="3" fill="#ffd700"/>
<rect x="239" y="423" width="1" height="6" fill="#ffd700"/>
<rect x="238" y="424" width="3" height="4" fill="#ffd700"/>
<rect x="243" y="423" width="1" height="8" fill="#ffd700"/>
<rect x="242" y="424" width="3" height="4" fill="#ffd700"/>
<rect x="247" y="421" width="1" height="8" fill="#ffd700"/>
<rect x="246" y="422" width="3" height="6" fill="#ffd700"/>
<rect x="251" y="417" width="1" height="8" fill="#ffd700"/>
<rect x="250" y="420" width="3" height="4" fill="#ffd700"/>
<rect x="255" y="419" width="1" height="8" fill="#ffd700"/>
<rect x="254" y="420" width="3" height="6" fill="#ffd700"/>
<rect x="259" y="423" width="1" height="7" fill="#ffd700"/>
<rect x="258" y="424" width="3" height="4" fill="#ffd700"/>
<rect x="263" y="421" width="1" height="9" fill="#ffd700"/>
<rect x="262" y="426" width="3" height="4" fill="#ffd700"/>
<rect x="267" y="422" width="1" height="11" fill="#ffd700"/>
<rect x="266" y="424" width="3" height="5" fill="#ffd700"/>
<rect x="271" y="414" width="1" height="12" fill="#ffd700"/>
<rect x="270" y="415" width="3" height="11" fill="#ffd700"/>
<rect x="275" y="414" width="1" height="7" fill="#ffd700"/>
<rect x="274" y="415" width="3" height="2" fill="#ffd700"/>
<rect x="279" y="414" width="1" height="14" fill="#ffd700"/>
<rect x="278" y="415" width="3" height="6" fill="#ffd700"/>
<rect x="283" y="409" width="1" height="16" fill="#ffd700"/>
<rect x="282" y="410" width="3" height="11" fill="#ffd700"/>
<rect x="287" y="403" width="1" height="12" fill="#ffd700"/>
<rect x="286" y="410" width="3" height="2" fill="#ffd700"/>
<rect x="291" y="395" width="1" height="25" fill="#ffd700"/>
<rect x="290" y="397" width="3" height="14" fill="#ffd700"/>
<rect x="295" y="380" width="1" height="26" fill="#ffd700"/>
<rect x="294" y="381" width="3" height="17" fill="#ffd700"/>
<rect x="299" y="380" width="1" height="15" fill="#ffd700"/>
<rect x="298" y="381" width="3" height="13" fill="#ffd700"/>
<rect x="303" y="390" width="1" height="19" fill="#ffd700"/>
<rect x="302" y="391" width="3" height="17" fill="#ffd700"/>
<rect x="307" y="375" width="1" height="33" fill="#ffd700"/>
<rect x="306" y="385" width="3" height="22" fill="#ffd700"/>
<rect x="311" y="376" width="1" height="29" fill="#ffd700"/>
<rect x="310" y="385" width="3" height="13" fill="#ffd700"/>
<rect x="315" y="393" width="1" height="13" fill="#ffd700"/>
<rect x="314" y="395" width="3" height="3" fill="#ffd700"/>
<rect x="319" y="387" width="1" height="20" fill="#ffd700"/>
<rect x="318" y="396" width="3" height="10" fill="#ffd700"/>
<rect x="323" y="394" width="1" height="15" fill="#ffd700"/>
<rect x="322" y="398" width="3" height="8" fill="#ffd700"/>
<rect x="327" y="388" width="1" height="18" fill="#ffd700"/>
<rect x="326" y="397" width="3" height="6" fill="#ffd700"/>
<rect x="331" y="391" width="1" height="13" fill="#ffd700"/>
<rect x="330" y="394" width="3" height="9" fill="#ffd700"/>
<rect x="335" y="389" width="1" height="11" fill="#ffd700"/>
<rect x="334" y="394" width="3" height="4" fill="#ffd700"/>
<rect x="339" y="395" width="1" height="11" fill="#ffd700"/>
<rect x="338" y="397" width="3" height="9" fill="#ffd700"/>
<rect x="343" y="390" width="1" height="17" fill="#ffd700"/>
<rect x="342" y="392" width="3" height="14" fill="#ffd700"/>
<rect x="347" y="386" width="1" height="9" fill="#ffd700"/>
<rect x="346" y="390" width="3" height="3" fill="#ffd700"/>
<rect x="351" y="385" width="1" height="16" fill="#ffd700"/>
<rect x="350" y="390" width="3" height="6" fill="#ffd700"/>
<rect x="355" y="379" width="1" height="19" fill="#ffd700"/>
<rect x="354" y="392" width="3" height="5" fill="#ffd700"/>
<rect x="359" y="385" width="1" height="13" fill="#ffd700"/>
<rect x="358" y="392" width="3" height="2" fill="#ffd700"/>
<rect x="363" y="375" width="1" height="19" fill="#ffd700"/>
<rect x="362" y="378" width="3" height="15" fill="#ffd700"/>
<rect x="367" y="368" width="1" height="20" fill="#ffd700"/>
<rect x="366" y="378" width="3" height="8" fill="#ffd700"/>
<rect x="371" y="353" width="1" height="48" fill="#ffd700"/>
<rect x="370" y="356" width="3" height="30" fill="#ffd700"/>
<rect x="375" y="349" width="1" height="24" fill="#ffd700"/>
<rect x="374" y="356" width="3" height="9" fill="#ffd700"/>
<rect x="379" y="347" width="1" height="28" fill="#ffd700"/>
<rect x="378" y="361" width="3" height="4" fill="#ffd700"/>
<rect x="383" y="350" width="1" height="29" fill="#ffd700"/>
<rect x="382" y="361" width="3" height="10" fill="#ffd700"/>
<rect x="387" y="361" width="1" height="23" fill="#ffd700"/>
<rect x="386" y="370" width="3" height="13" fill="#ffd700"/>
<rect x="391" y="372" width="1" height="18" fill="#ffd700"/>
<rect x="390" y="373" width="3" height="10" fill="#ffd700"/>
<rect x="395" y="361" width="1" height="14" fill="#ffd700"/>
<rect x="394" y="363" width="3" height="11" fill="#ffd700"/>
<rect x="399" y="323" width="1" height="43" fill="#ffd700"/>
<rect x="398" y="324" width="3" height="41" fill="#ffd700"/>
<rect x="403" y="318" width="1" height="24" fill="#ffd700"/>
<rect x="402" y="326" width="3" height="12" fill="#ffd700"/>
<rect x="407" y="334" width="1" height="21" fill="#ffd700"/>
<rect x="406" y="336" width="3" height="10" fill="#ffd700"/>
<rect x="411" y="325" width="1" height="24" fill="#ffd700"/>
<rect x="410" y="337" width="3" height="9" fill="#ffd700"/>
<rect x="415" y="309" width="1" height="31" fill="#ffd700"/>
<rect x="414" y="313" width="3" height="26" fill="#ffd700"/>
<rect x="419" y="298" width="1" height="24" fill="#ffd700"/>
<rect x="418" y="313" width="3" height="8" fill="#ffd700"/>
<rect x="423" y="314" width="1" height="17" fill="#ffd700"/>
<rect x="422" y="319" width="3" height="2" fill="#ffd700"/>
<rect x="427" y="315" width="1" height="17" fill="#ffd700"/>
<rect x="426" y="319" width="3" height="8" fill="#ffd700"/>
<rect x="431" y="309" width="1" height="19" fill="#ffd700"/>
<rect x="430" y="317" width="3" height="10" fill="#ffd700"/>
<rect x="435" y="308" width="1" height="12" fill="#ffd700"/>
<rect x="434" y="313" width="3" height="5" fill="#ffd700"/>
<rect x="439" y="308" width="1" height="22" fill="#ffd700"/>
<rect x="438" y="313" width="3" height="15" fill="#ffd700"/>
<rect x="443" y="321" width="1" height="12" fill="#ffd700"/>
<rect x="442" y="326" width="3" height="2" fill="#ffd700"/>
<rect x="447" y="328" width="1" height="24" fill="#ffd700"/>
<rect x="446" y="328" width="3" height="23" fill="#ffd700"/>
<rect x="451" y="347" width="1" height="18" fill="#ffd700"/>
<rect x="450" y="349" width="3" height="14" fill="#ffd700"/>
<rect x="455" y="350" width="1" height="13" fill="#ffd700"/>
<rect x="454" y="353" width="3" height="10" fill="#ffd700"/>
<rect x="459" y="351" width="1" height="8" fill="#ffd700"/>
<rect x="458" y="352" width="3" height="4" fill="#ffd700"/>
<rect x="463" y="347" width="1" height="9" fill="#ffd700"/>
<rect x="462" y="349" width="3" height="5" fill="#ffd700"/>
<rect x="467" y="347" width="1" height="7" fill="#ffd700"/>
<rect x="466" y="349" width="3" height="3" fill="#ffd700"/>
<rect x="2" y="2" width="596" height="1" fill="#000"/>
<rect x="2" y="2" width="1" height="458" fill="#000"/>
<rect x="597" y="2" width="1" height="458" fill="#000"/>
<rect x="2" y="459" width="596" height="1" fill="#000"/>
<rect x="598" y="15" width="2" height="1" fill="#000"/>
<rect x="598" y="50" width="2" height="1" fill="#000"/>
<rect x="598" y="83" width="2" height="1" fill="#000"/>
<rect x="598" y="118" width="2" height="1" fill="#000"/>
<rect x="598" y="151" width="2" height="1" fill="#000"/>
<rect x="598" y="186" width="2" height="1" fill="#000"/>
<rect x="598" y="219" width="2" height="1" fill="#000"/>
<rect x="598" y="254" width="2" height="1" fill="#000"/>
<rect x="598" y="287" width="2" height="1" fill="#000"/>
<rect x="598" y="322" width="2" height="1" fill="#000"/>
<rect x="598" y="355" width="2" height="1" fill="#000"/>
<rect x="598" y="390" width="2" height="1" fill="#000"/>
<rect x="598" y="423" width="2" height="1" fill="#000"/>
<rect x="598" y="456" width="2" height="1" fill="#000"/>
<rect x="3" y="460" width="1" height="3" fill="#000"/>
<rect x="67" y="460" width="1" height="3" fill="#000"/>
<rect x="131" y="460" width="1" height="3" fill="#000"/>
<rect x="195" y="460" width="1" height="3" fill="#000"/>
<rect x="259" y="460" width="1" height="3" fill="#000"/>
<rect x="323" y="460" width="1" height="3" fill="#000"/>
<rect x="387" y="460" width="1" height="3" fill="#000"/>
<rect x="451" y="460" width="1" height="3" fill="#000"/>
<rect x="600" y="196" width="39" height="11" fill="#000"/>
<path d="M6 9H13L9.5 13Z" fill="#000" shape-rendering="auto"/>
</g><g filter="url(#cr)">
<text class="ax" x="603" y="19" textLength="32" lengthAdjust="spacingAndGlyphs">1.12235</text>
<text class="ax" x="603" y="54" textLength="32" lengthAdjust="spacingAndGlyphs">1.12160</text>
<text class="ax" x="603" y="87" textLength="32" lengthAdjust="spacingAndGlyphs">1.12090</text>
<text class="ax" x="603" y="122" textLength="32" lengthAdjust="spacingAndGlyphs">1.12015</text>
<text class="ax" x="603" y="155" textLength="32" lengthAdjust="spacingAndGlyphs">1.11945</text>
<text class="ax" x="603" y="190" textLength="32" lengthAdjust="spacingAndGlyphs">1.11870</text>
<text class="ax" x="603" y="223" textLength="32" lengthAdjust="spacingAndGlyphs">1.11800</text>
<text class="ax" x="603" y="258" textLength="32" lengthAdjust="spacingAndGlyphs">1.11725</text>
<text class="ax" x="603" y="291" textLength="32" lengthAdjust="spacingAndGlyphs">1.11655</text>
<text class="ax" x="603" y="326" textLength="32" lengthAdjust="spacingAndGlyphs">1.11580</text>
<text class="ax" x="603" y="359" textLength="32" lengthAdjust="spacingAndGlyphs">1.11510</text>
<text class="ax" x="603" y="394" textLength="32" lengthAdjust="spacingAndGlyphs">1.11435</text>
<text class="ax" x="603" y="427" textLength="32" lengthAdjust="spacingAndGlyphs">1.11365</text>
<text class="ax" x="603" y="460" textLength="32" lengthAdjust="spacingAndGlyphs">1.11295</text>
<text class="ax" x="603" y="205" textLength="32" lengthAdjust="spacingAndGlyphs" style="fill:#fff">1.11839</text>
<text class="ax" x="2.6" y="472" textLength="50.5" lengthAdjust="spacingAndGlyphs">11 Aug 2016</text>
<text class="ax" x="66.6" y="472" textLength="55.5" lengthAdjust="spacingAndGlyphs">11 Aug 18:30</text>
<text class="ax" x="130.6" y="472" textLength="55.5" lengthAdjust="spacingAndGlyphs">12 Aug 02:30</text>
<text class="ax" x="194.6" y="472" textLength="55.5" lengthAdjust="spacingAndGlyphs">12 Aug 10:30</text>
<text class="ax" x="258.6" y="472" textLength="55.5" lengthAdjust="spacingAndGlyphs">12 Aug 18:30</text>
<text class="ax" x="322.6" y="472" textLength="55.5" lengthAdjust="spacingAndGlyphs">15 Aug 02:30</text>
<text class="ax" x="386.6" y="472" textLength="55.5" lengthAdjust="spacingAndGlyphs">15 Aug 10:30</text>
<text class="ax" x="450.6" y="472" textLength="55.5" lengthAdjust="spacingAndGlyphs">15 Aug 18:30</text>
<text class="ax" x="17" y="14" textLength="76" lengthAdjust="spacingAndGlyphs">EURUSD.pro,M30</text>
<text class="ax" x="100.60" y="14" textLength="32" lengthAdjust="spacingAndGlyphs">1.11853</text>
<text class="ax" x="136.25" y="14" textLength="32" lengthAdjust="spacingAndGlyphs">1.11855</text>
<text class="ax" x="171.90" y="14" textLength="32" lengthAdjust="spacingAndGlyphs">1.11836</text>
<text class="ax" x="207.55" y="14" textLength="32" lengthAdjust="spacingAndGlyphs">1.11839</text>
</g><g filter="url(#c2)">
<text class="lg" x="594.5" y="17" text-anchor="end" fill="#1e90ff">4 Hours</text>
<text class="lg" x="594.5" y="37" text-anchor="end" fill="#ff0000">1 Hour</text>
<text class="lg" x="594.5" y="57" text-anchor="end" fill="#ffd700">15 Minutes</text>
</g></svg></body></html>
